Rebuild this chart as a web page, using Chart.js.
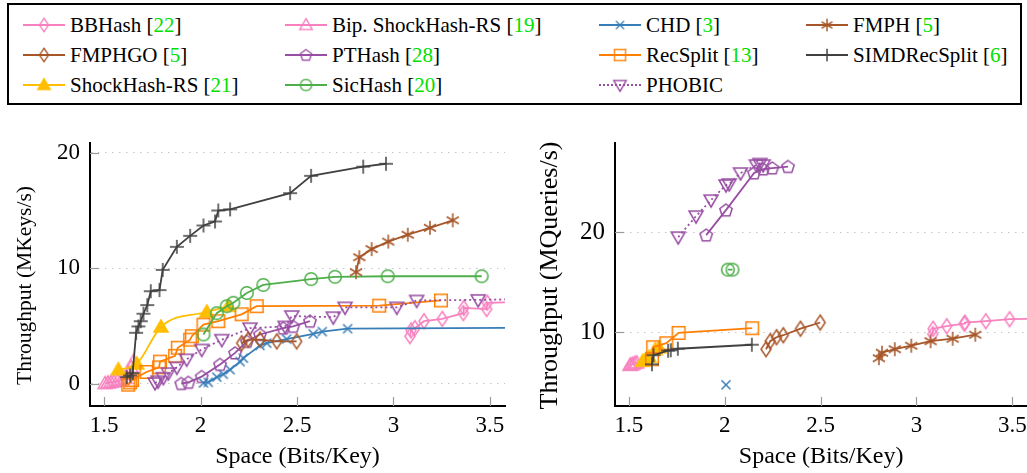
<!DOCTYPE html>
<html><head><meta charset="utf-8">
<script src="https://cdn.jsdelivr.net/npm/chart.js@4.4.1/dist/chart.umd.min.js"></script>
<style>
html,body{margin:0;padding:0;background:#fff;overflow:hidden;width:1027px;height:473px;}
body{position:relative;font-family:"Liberation Serif",serif;color:#000;}
#legend{position:absolute;left:7px;top:3px;width:1015px;height:102px;border:2px solid #000;box-sizing:border-box;}
.item{position:absolute;display:flex;align-items:center;font-size:21px;white-space:pre;height:26px;}
.ic{position:relative;width:42px;height:20px;margin-right:5px;}
.ic .ln{position:absolute;left:0;right:0;top:9px;border-top:2px solid;}
.ic img{position:absolute;left:12px;top:1px;}
.cite{color:#00e000;}
#w1{position:absolute;left:0;top:110px;}
#w2{position:absolute;left:525px;top:110px;}
</style></head>
<body>
<div id="legend"></div>
<div id="w1"><canvas id="c1" width="520" height="363"></canvas></div>
<div id="w2"><canvas id="c2" width="510" height="363"></canvas></div>
<script>
// ---------- data ----------
const xTickValues = [1.5, 2, 2.5, 3, 3.5];
const yTicksBuild = [0, 10, 20];
const yTicksQuery = [10, 20];

// Construction throughput (MKeys/s)
const bbhashBX = [3.085, 3.091, 3.111, 3.158, 3.253, 3.362, 3.364, 3.483, 3.486, 3.75];
const bbhashBY = [4.1, 4.6, 4.8, 5.4, 5.6, 6.1, 6.55, 6.45, 7.0, 7.1];
const bipBX = [1.505, 1.52, 1.535, 1.55, 1.57, 1.59, 1.61, 1.625, 1.64, 1.652];
const bipBY = [0.0, 0.05, 0.1, 0.15, 0.22, 0.3, 0.45, 0.8, 1.4, 1.9];
const chdBX = [2.015, 2.04, 2.084, 2.118, 2.153, 2.205, 2.222, 2.308, 2.343, 2.446, 2.584, 2.631, 2.762, 3.8];
const chdBY = [0.05, 0.1, 0.55, 0.8, 1.2, 1.9, 2.2, 3.3, 3.5, 3.85, 4.3, 4.5, 4.75, 4.85];
const fmphBX = [2.806, 2.823, 2.887, 2.973, 3.074, 3.189, 3.307];
const fmphBY = [9.65, 10.95, 11.65, 12.3, 12.9, 13.5, 14.15];
const fmphgoBX = [2.213, 2.247, 2.308, 2.395, 2.498];
const fmphgoBY = [3.5, 3.8, 3.8, 3.65, 3.65];
const pthashBX = [1.9, 1.937, 2.006, 2.101, 2.179, 2.24, 2.308, 2.429, 2.48, 2.567];
const pthashBY = [0.0, 0.1, 0.6, 1.65, 2.65, 3.65, 4.25, 4.8, 4.95, 5.4];
const recsplitBX = [1.625, 1.635, 1.645, 1.72, 1.785, 1.79, 1.868, 1.882, 1.946, 1.955, 2.015, 2.092, 2.213, 2.291, 2.926, 3.246];
const recsplitBY = [-0.1, 0.1, 0.3, 1.0, 1.4, 1.9, 2.4, 3.1, 3.8, 4.1, 5.1, 5.4, 6.0, 6.7, 6.75, 7.2];
const simdBX = [1.618, 1.635, 1.648, 1.666, 1.678, 1.69, 1.704, 1.724, 1.742, 1.787, 1.804, 1.877, 1.946, 2.015, 2.075, 2.092, 2.153, 2.464, 2.573, 2.843, 2.961];
const simdBY = [0.55, 0.7, 0.9, 4.4, 4.95, 5.4, 6.05, 6.8, 8.0, 8.1, 9.85, 11.85, 12.8, 13.7, 14.05, 15.0, 15.1, 16.5, 18.0, 18.8, 19.05];
const shockBX = [1.574, 1.669, 1.795, 2.032, 2.144];
const shockBY = [1.2, 1.7, 4.9, 6.2, 6.7];
const sichashBX = [2.015, 2.084, 2.136, 2.17, 2.24, 2.325, 2.573, 2.697, 2.97, 3.457];
const sichashBY = [4.25, 6.1, 6.7, 7.0, 7.85, 8.55, 9.05, 9.25, 9.3, 9.3];
const phobicBX = [1.764, 1.78, 1.807, 1.833, 1.877, 1.928, 2.006, 2.11, 2.256, 2.438, 2.473, 2.688, 2.749, 3.017, 3.12, 3.439, 3.8];
const phobicBY = [0.05, 0.2, 0.5, 0.9, 1.4, 2.1, 2.95, 3.8, 4.8, 4.95, 5.85, 5.75, 6.6, 6.6, 7.2, 7.25, 7.35];

// Query throughput (MQueries/s)
const bbhashQX = [3.085, 3.087, 3.158, 3.25, 3.253, 3.362, 3.486, 3.75];
const bbhashQY = [9.8, 10.35, 10.6, 10.85, 10.95, 11.1, 11.3, 11.4];
const bipQX = [1.505, 1.512, 1.52, 1.53, 1.54];
const bipQY = [6.7, 6.75, 6.8, 6.9, 6.95];
const chdQX = [2.006];
const chdQY = [4.75];
const fmphQX = [2.804, 2.82, 2.887, 2.973, 3.074, 3.189, 3.307];
const fmphQY = [7.4, 7.95, 8.3, 8.65, 9.1, 9.35, 9.75];
const fmphgoQX = [2.215, 2.237, 2.27, 2.305, 2.395, 2.498];
const fmphgoQY = [8.3, 9.1, 9.5, 9.7, 10.35, 10.97];
const pthashQX = [1.903, 2.006, 2.153, 2.2, 2.248, 2.33];
const pthashQY = [19.7, 22.2, 25.9, 26.3, 26.4, 26.55];
const recsplitQX = [1.62, 1.626, 1.695, 1.759, 2.143];
const recsplitQY = [7.3, 8.5, 8.9, 9.93, 10.4];
const simdQX = [1.62, 1.628, 1.704, 1.718, 1.755, 2.141];
const simdQY = [6.8, 7.7, 8.15, 8.2, 8.35, 8.75];
const shockQX = [1.572, 1.588, 1.605, 1.637, 1.657];
const shockQY = [7.1, 7.3, 7.5, 8.25, 8.45];
const sichashQX = [2.016, 2.04];
const sichashQY = [16.25, 16.25];
const phobicQX = [1.757, 1.85, 1.928, 2.006, 2.023, 2.082, 2.165, 2.183, 2.2];
const phobicQY = [19.5, 21.6, 23.2, 24.7, 24.8, 25.9, 26.7, 26.85, 26.7];

const legendLabels = ["BBHash", "Bip. ShockHash-RS", "CHD", "FMPH", "FMPHGO", "PTHash", "RecSplit", "SIMDRecSplit", "ShockHash-RS", "SicHash", "PHOBIC"];
const legendCites = ["22", "19", "3", "5", "5", "28", "13", "6", "21", "20", ""];

// ---------- styles ----------
const C = {pink:'#f781bf', blue:'#377eb8', brown:'#a65628', purple:'#984ea3', orange:'#ff7f00', dark:'#404040', gold:'#ffbf00', green:'#4daf4a'};

function marker(kind, color, fill){
  const s = 20, m = s/2;
  const c = document.createElement('canvas'); c.width = s; c.height = s;
  const g = c.getContext('2d');
  g.strokeStyle = color; g.lineWidth = 1.5; g.lineJoin = 'miter';
  g.beginPath();
  if (kind === 'diamond') { g.moveTo(m, m-7.5); g.lineTo(m+5, m); g.lineTo(m, m+7.5); g.lineTo(m-5, m); g.closePath(); }
  else if (kind === 'pentagon') { for (let i=0;i<5;i++){ const a=(-90+72*i)*Math.PI/180; const px=m+6.5*Math.cos(a), py=m+0.5+6.5*Math.sin(a); i?g.lineTo(px,py):g.moveTo(px,py);} g.closePath(); }
  else if (kind === 'asterisk') { for (let i=0;i<3;i++){ const a=(90+60*i)*Math.PI/180; g.moveTo(m+7*Math.cos(a), m+7*Math.sin(a)); g.lineTo(m-7*Math.cos(a), m-7*Math.sin(a)); } }
  else if (kind === 'triangle') { g.moveTo(m, m-7); g.lineTo(m+7, m+5); g.lineTo(m-7, m+5); g.closePath(); }
  else if (kind === 'itriangle') { g.moveTo(m, m+7); g.lineTo(m+7, m-5); g.lineTo(m-7, m-5); g.closePath(); }
  else if (kind === 'circle') { g.arc(m, m, 6.3, 0, Math.PI*2); }
  else if (kind === 'square') { g.rect(m-6.3, m-6.3, 12.6, 12.6); }
  else if (kind === 'x') { g.moveTo(m-4.5,m-4.5); g.lineTo(m+4.5,m+4.5); g.moveTo(m+4.5,m-4.5); g.lineTo(m-4.5,m+4.5); }
  else if (kind === 'plus') { g.moveTo(m-7,m); g.lineTo(m+7,m); g.moveTo(m,m-7); g.lineTo(m,m+7); }
  if (fill) { g.fillStyle = fill; g.fill(); }
  g.stroke();
  return c;
}

const series = [
  {name:'BBHash', color:C.pink, mk:marker('diamond', C.pink)},
  {name:'Bip. ShockHash-RS', color:C.pink, mk:marker('triangle', C.pink)},
  {name:'CHD', color:C.blue, mk:marker('x', C.blue)},
  {name:'FMPH', color:C.brown, mk:marker('asterisk', C.brown)},
  {name:'FMPHGO', color:C.brown, mk:marker('diamond', C.brown)},
  {name:'PTHash', color:C.purple, mk:marker('pentagon', C.purple)},
  {name:'RecSplit', color:C.orange, mk:marker('square', C.orange)},
  {name:'SIMDRecSplit', color:C.dark, mk:marker('plus', C.dark)},
  {name:'ShockHash-RS', color:C.gold, mk:marker('triangle', C.gold, C.gold), smooth:true},
  {name:'SicHash', color:C.green, mk:marker('circle', C.green)},
  {name:'PHOBIC', color:C.purple, mk:marker('itriangle', C.purple), dotted:true}
];

// ---------- legend ----------
const legendPos = [[14,7],[276,7],[590,7],[797,7],[14,37],[276,37],[590,37],[797,37],[14,67],[276,67],[590,67]];
const leg = document.getElementById('legend');
series.forEach((s, i) => {
  const d = document.createElement('div'); d.className = 'item';
  d.style.left = legendPos[i][0] + 'px'; d.style.top = legendPos[i][1] + 'px';
  const ic = document.createElement('span'); ic.className = 'ic';
  const ln = document.createElement('span'); ln.className = 'ln';
  ln.style.borderTopColor = s.color; if (s.dotted) ln.style.borderTopStyle = 'dotted';
  const im = document.createElement('img'); im.src = s.mk.toDataURL(); im.width = 18; im.height = 18;
  ic.appendChild(ln); ic.appendChild(im); d.appendChild(ic);
  const t = document.createElement('span');
  t.textContent = legendLabels[i] + (legendCites[i] ? '\u00a0' : '');
  d.appendChild(t);
  if (legendCites[i]) {
    const b = document.createElement('span'); b.innerHTML = '[<span class="cite">' + legendCites[i] + '</span>]';
    d.appendChild(b);
  }
  leg.appendChild(d);
});

// ---------- charts ----------
function mkDatasets(list){
  return list.map(([idx, xs, ys]) => {
    const s = series[idx];
    return {
      label: s.name,
      data: xs.map((x, i) => ({x, y: ys[i]})),
      showLine: true,
      borderColor: s.color,
      backgroundColor: s.color,
      borderWidth: 1.8,
      borderDash: s.dotted ? [2, 3] : [],
      pointStyle: s.mk,
      pointRadius: 6,
      pointHoverRadius: 6,
      cubicInterpolationMode: s.smooth ? 'monotone' : 'default',
      tension: 0
    };
  });
}

const buildSets = mkDatasets([
  [3, fmphBX, fmphBY], [9, sichashBX, sichashBY], [7, simdBX, simdBY],
  [4, fmphgoBX, fmphgoBY], [2, chdBX, chdBY], [5, pthashBX, pthashBY],
  [10, phobicBX, phobicBY], [6, recsplitBX, recsplitBY], [0, bbhashBX, bbhashBY],
  [8, shockBX, shockBY], [1, bipBX, bipBY]
]);
const querySets = mkDatasets([
  [3, fmphQX, fmphQY], [9, sichashQX, sichashQY], [7, simdQX, simdQY],
  [4, fmphgoQX, fmphgoQY], [2, chdQX, chdQY], [5, pthashQX, pthashQY],
  [10, phobicQX, phobicQY], [6, recsplitQX, recsplitQY], [0, bbhashQX, bbhashQY],
  [8, shockQX, shockQY], [1, bipQX, bipQY]
]);

const FONT = 'Liberation Serif';
const innerTicks = {
  id: 'innerTicks',
  beforeDatasetsDraw(chart){
    const {ctx, chartArea: a, scales: {x, y}} = chart;
    ctx.save(); ctx.strokeStyle = '#9a9a9a'; ctx.lineWidth = 1.2;
    x.ticks.forEach(t => { const p = Math.round(x.getPixelForValue(t.value)) + 0.5; ctx.beginPath(); ctx.moveTo(p, a.bottom); ctx.lineTo(p, a.bottom - 9); ctx.stroke(); });
    y.ticks.forEach(t => { const p = Math.round(y.getPixelForValue(t.value)) + 0.5; ctx.beginPath(); ctx.moveTo(a.left, p); ctx.lineTo(a.left + 9, p); ctx.stroke(); });
    ctx.restore();
  }
};
// y-axis title drawn as canvas text, placed relative to the plot area
const yTitlePlugin = {
  id: 'yTitle',
  afterDraw(chart, args, opts){
    const {ctx, chartArea: a} = chart;
    ctx.save();
    ctx.translate(opts.x, (a.top + a.bottom) / 2 + opts.shift);
    ctx.rotate(-Math.PI / 2);
    ctx.font = opts.size + 'px "' + FONT + '"';
    ctx.fillStyle = '#000'; ctx.textAlign = 'center'; ctx.textBaseline = 'middle';
    ctx.fillText(opts.text, 0, 0);
    ctx.restore();
  }
};

function makeChart(id, datasets, yMin, yMax, yTicks, yTitle, yFont, titleFont, titleShift, padRight){
  return new Chart(document.getElementById(id), {
    type: 'scatter',
    data: {datasets},
    plugins: [innerTicks, yTitlePlugin],
    options: {
      responsive: false, animation: false, events: [],
      layout: {padding: {top: 33, right: padRight, left: 0, bottom: 0}},
      plugins: {legend: {display: false}, tooltip: {enabled: false},
                yTitle: {text: yTitle, size: titleFont, x: 25, shift: titleShift}},
      scales: {
        x: {
          type: 'linear', min: 1.427, max: 3.578,
          afterBuildTicks: s => { s.ticks = xTickValues.map(v => ({value: v})); },
          afterFit: s => { s.height = 67; s.paddingLeft = 0; s.paddingRight = 0; },
          grid: {display: false, drawTicks: false},
          border: {display: true, color: '#000', width: 2},
          ticks: {color: '#000', padding: 6, font: {family: FONT, size: 23}, maxRotation: 0, autoSkip: false,
                  callback: v => String(v)},
          title: {display: true, text: 'Space (Bits/Key)', color: '#000', font: {family: FONT, size: 24}, padding: {top: 0, bottom: 2}}
        },
        y: {
          type: 'linear', min: yMin, max: yMax,
          afterBuildTicks: s => { s.ticks = yTicks.map(v => ({value: v})); },
          afterFit: s => { s.width = 90; s.paddingTop = 0; s.paddingBottom = 0; },
          grid: {display: true, drawTicks: false, color: '#c4c4c4', lineWidth: 1},
          border: {display: true, color: '#000', width: 2, dash: [1.5, 5.5]},
          ticks: {color: '#000', padding: 10, font: {family: FONT, size: yFont}, callback: v => String(v)},
          title: {display: false}
        }
      }
    }
  });
}

makeChart('c1', buildSets, -1.95, 20.85, yTicksBuild, 'Throughput (MKeys/s)', 23, 21.5, 11, 15);
makeChart('c2', querySets, 2.63, 28.9, yTicksQuery, 'Throughput (MQueries/s)', 25, 26, 1, 5);
</script>
</body></html>
